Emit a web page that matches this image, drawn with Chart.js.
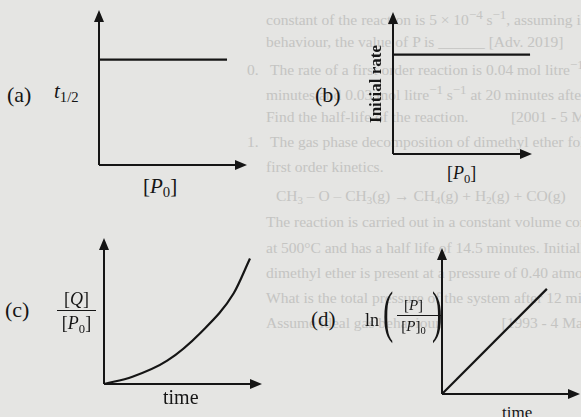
<!DOCTYPE html>
<html>
<head>
<meta charset="utf-8">
<script src="https://cdn.jsdelivr.net/npm/chart.js@4.4.1/dist/chart.umd.min.js"></script>
<style>
  html, body { margin: 0; padding: 0; }
  body {
    width: 581px; height: 417px; overflow: hidden; position: relative;
    background: #e5e5e3; font-family: "Liberation Serif", "DejaVu Serif", serif; color: #151515;
  }
  canvas { position: absolute; }
  .lbl { position: absolute; white-space: nowrap; line-height: 1; }
  .bg { position: absolute; white-space: nowrap; color: #c4c4c2; font-size: 15.5px; line-height: 1; }
  .frac { position: absolute; text-align: center; line-height: 1; }
  .frac .bar { border-top: 1.5px solid #151515; margin: 2px 0 3px 0; }
  i { font-style: italic; }
  sub { font-size: 70%; vertical-align: -0.3em; line-height: 0; }
</style>
</head>
<body>

<!-- show-through text of the page -->
<div class="bg" style="left:266px;top:9px">constant of the reaction is 5 × 10<sup>−4</sup> s<sup>−1</sup>, assuming ideal</div>
<div class="bg" style="left:266px;top:34px">behaviour, the value of P is ______ [Adv. 2019]</div>
<div class="bg" style="left:247px;top:59px">0.&nbsp;&nbsp; The rate of a first order reaction is 0.04 mol litre<sup>−1</sup> s<sup>−1</sup> at 10</div>
<div class="bg" style="left:266px;top:84px">minutes and 0.03 mol litre<sup>−1</sup> s<sup>−1</sup> at 20 minutes after initiation.</div>
<div class="bg" style="left:266px;top:109px">Find the half-life of the reaction.&nbsp;&nbsp;&nbsp;&nbsp;&nbsp;&nbsp;&nbsp;&nbsp;&nbsp;&nbsp; [2001 - 5 Marks]</div>
<div class="bg" style="left:247px;top:134px">1.&nbsp;&nbsp; The gas phase decomposition of dimethyl ether follows</div>
<div class="bg" style="left:266px;top:159px">first order kinetics.</div>
<div class="bg" style="left:276px;top:188px">CH<sub>3</sub> – O – CH<sub>3</sub>(g) → CH<sub>4</sub>(g) + H<sub>2</sub>(g) + CO(g)</div>
<div class="bg" style="left:266px;top:214px">The reaction is carried out in a constant volume container</div>
<div class="bg" style="left:266px;top:240px">at 500°C and has a half life of 14.5 minutes. Initially, only</div>
<div class="bg" style="left:266px;top:265px">dimethyl ether is present at a pressure of 0.40 atmosphere.</div>
<div class="bg" style="left:266px;top:290px">What is the total pressure of the system after 12 minutes?</div>
<div class="bg" style="left:266px;top:315px">Assume ideal gas behaviour.&nbsp;&nbsp;&nbsp;&nbsp;&nbsp;&nbsp;&nbsp;&nbsp;&nbsp;&nbsp;&nbsp;&nbsp;&nbsp;&nbsp; [1993 - 4 Marks]</div>

<canvas id="chartA"></canvas>
<canvas id="chartB"></canvas>
<canvas id="chartC"></canvas>
<canvas id="chartD"></canvas>

<!-- (a) -->
<div class="lbl" style="left:7px;top:84px;font-size:22px">(a)</div>
<div class="lbl" style="left:54px;top:81px;font-size:21px"><i>t</i><sub>1/2</sub></div>
<div class="lbl" style="left:143px;top:176px;font-size:21px">[<i>P</i><sub>0</sub>]</div>
<!-- (b) -->
<div class="lbl" style="left:315px;top:84px;font-size:22px">(b)</div>
<div class="lbl" style="left:375px;top:84px;font-size:17px;font-weight:bold;transform:translate(-50%,-50%) rotate(-90deg)">Initial rate</div>
<div class="lbl" style="left:447px;top:164px;font-size:18px">[<i>P</i><sub>0</sub>]</div>
<!-- (c) -->
<div class="lbl" style="left:5px;top:299px;font-size:22px">(c)</div>
<div class="frac" style="left:57px;top:290px;width:39px;font-size:18px"><div>[<i>Q</i>]</div><div class="bar"></div><div>[<i>P</i><sub>0</sub>]</div></div>
<div class="lbl" style="left:163px;top:387px;font-size:20px">time</div>
<!-- (d) -->
<div class="lbl" style="left:311px;top:309px;font-size:21px">(d)</div>
<div class="lbl" style="left:365px;top:311px;font-size:18px">ln</div>
<div class="lbl" style="left:383px;top:284px;font-size:56px;font-weight:100;transform:scaleX(0.55);transform-origin:left top">(</div>
<div class="lbl" style="left:432px;top:284px;font-size:56px;font-weight:100;transform:scaleX(0.55);transform-origin:left top">)</div>
<div class="frac" style="left:397px;top:298px;width:33px;font-size:15px"><div>[<i>P</i>]</div><div class="bar" style="width:45px"></div><div>[<i>P</i>]<sub>0</sub></div></div>
<div class="lbl" style="left:502px;top:404px;font-size:17px">time</div>

<script>
// (a) half-life vs initial concentration
var aP0 = [0, 0.865];
var aHalfLife = [0.68, 0.68];
// (b) initial rate vs initial concentration
var bP0 = [0, 0.986];
var bInitialRate = [0.70, 0.70];
// (c) [Q]/[P0] vs time
var cTime = [0, 0.18, 0.40, 0.61, 0.82, 0.924];
var cQratio = [0, 0.05, 0.16, 0.35, 0.62, 0.86];
// (d) ln([P]/[P]0) vs time
var dTime = [0, 0.76];
var dLnRatio = [0, 0.72];

var PAD = 9;

// axes with arrow heads, drawn from the chart's own scales
var arrowAxes = {
  id: 'arrowAxes',
  afterDatasetsDraw: function (chart) {
    var ctx = chart.ctx, x = chart.scales.x, y = chart.scales.y;
    var x0 = x.getPixelForValue(0), y0 = y.getPixelForValue(0);
    var x1 = x.getPixelForValue(1), y1 = y.getPixelForValue(1);
    ctx.save();
    ctx.strokeStyle = '#151515';
    ctx.fillStyle = '#151515';
    ctx.lineWidth = 2;
    ctx.beginPath();
    ctx.moveTo(x0, y0); ctx.lineTo(x0, y1 + 6);
    ctx.moveTo(x0, y0); ctx.lineTo(x1 - 6, y0);
    ctx.stroke();
    ctx.beginPath();
    ctx.moveTo(x0, y1); ctx.lineTo(x0 - 5, y1 + 12); ctx.lineTo(x0 + 5, y1 + 12); ctx.closePath();
    ctx.moveTo(x1, y0); ctx.lineTo(x1 - 12, y0 - 5); ctx.lineTo(x1 - 12, y0 + 5); ctx.closePath();
    ctx.fill();
    ctx.restore();
  }
};

function makeChart(id, origin, tip, xs, ys, tension) {
  var el = document.getElementById(id);
  var w = tip[0] - origin[0], h = origin[1] - tip[1];
  el.width = w + 2 * PAD;
  el.height = h + 2 * PAD;
  el.style.left = (origin[0] - PAD) + 'px';
  el.style.top = (tip[1] - PAD) + 'px';
  var pts = xs.map(function (v, i) { return { x: v, y: ys[i] }; });
  return new Chart(el, {
    type: 'scatter',
    data: {
      datasets: [{
        data: pts,
        showLine: true,
        borderColor: '#151515',
        borderWidth: 2.2,
        pointRadius: 0,
        tension: tension,
        cubicInterpolationMode: tension ? 'monotone' : 'default',
        clip: false
      }]
    },
    options: {
      responsive: false,
      animation: false,
      devicePixelRatio: 1,
      layout: { padding: PAD },
      plugins: { legend: { display: false }, tooltip: { enabled: false } },
      scales: {
        x: { type: 'linear', min: 0, max: 1, display: false },
        y: { type: 'linear', min: 0, max: 1, display: false }
      }
    },
    plugins: [arrowAxes]
  });
}

makeChart('chartA', [99, 165], [247, 10], aP0, aHalfLife, 0);
makeChart('chartB', [393, 154], [532, 12], bP0, bInitialRate, 0);
makeChart('chartC', [104, 384], [262, 238], cTime, cQratio, 0.4);
makeChart('chartD', [442, 394], [580, 248], dTime, dLnRatio, 0);
</script>
</body>
</html>
